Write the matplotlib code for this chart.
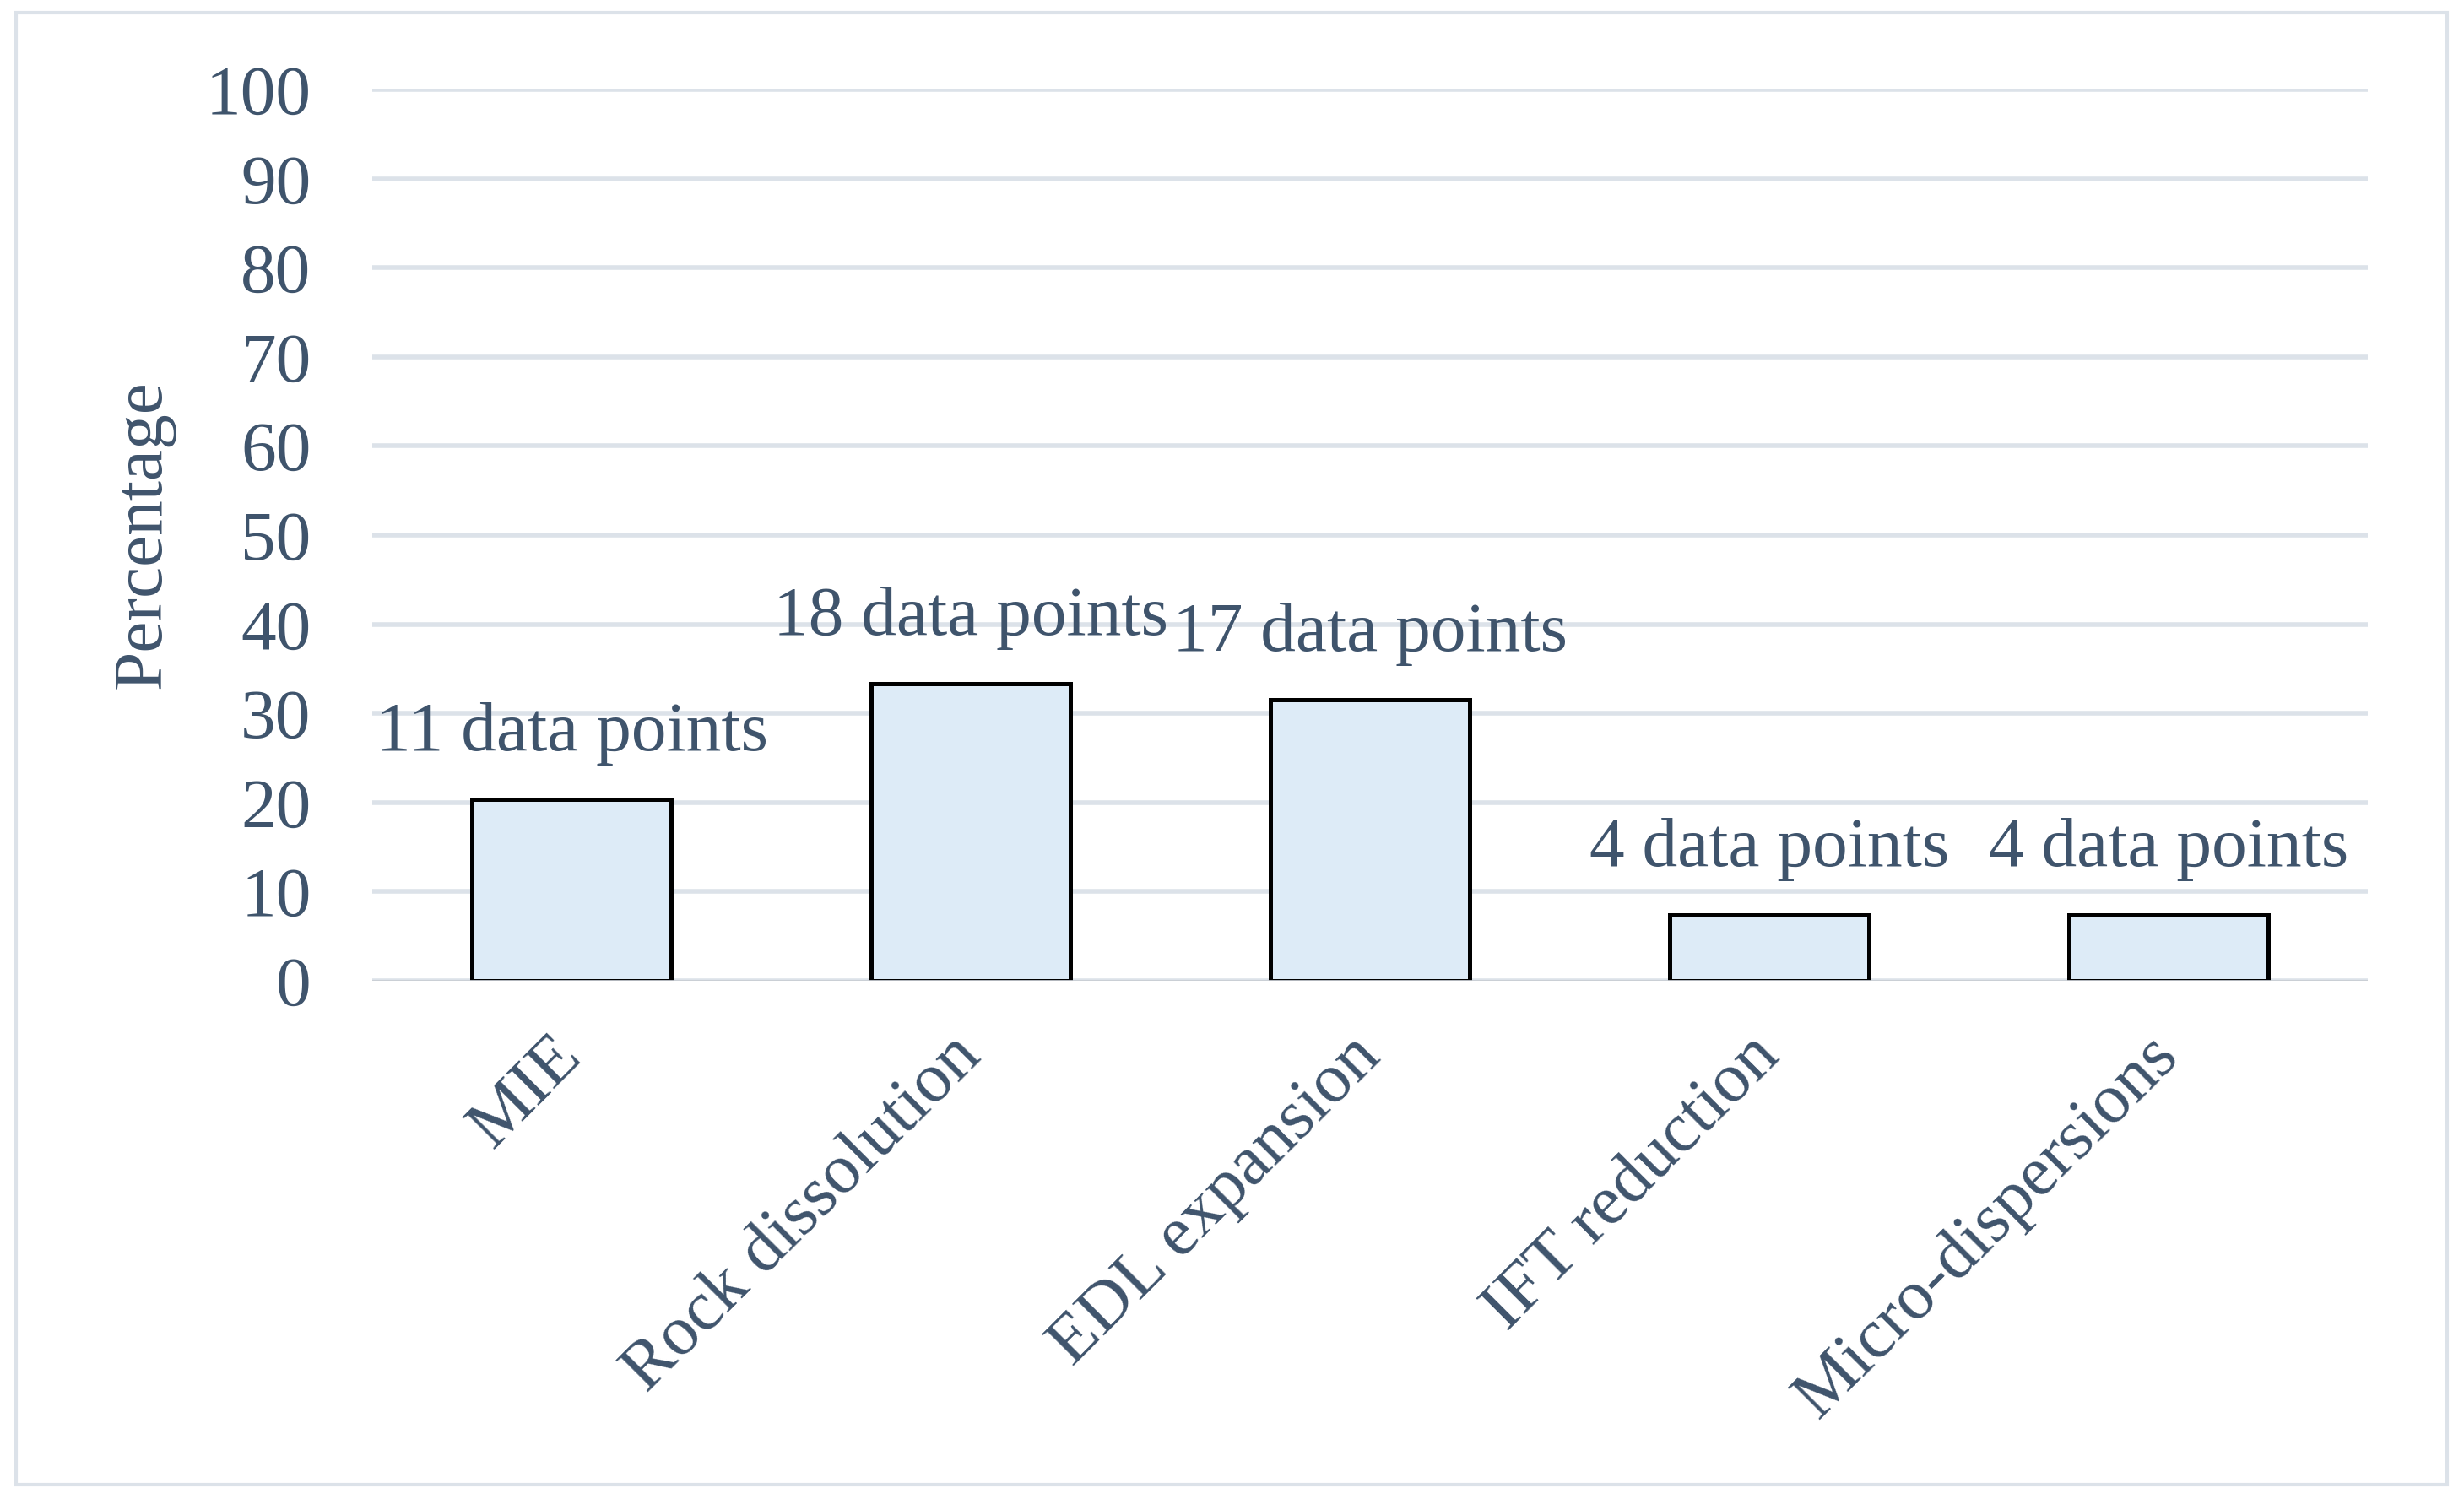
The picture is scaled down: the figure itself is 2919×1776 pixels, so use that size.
import numpy as np
import matplotlib.pyplot as plt
import matplotlib.transforms as mtransforms
from matplotlib.patches import Rectangle

# datos
categorias = ['MIE', 'Rock dissolution', 'EDL expansion', 'IFT reduction', 'Micro-dispersions']
porcentajes = [20.4, 33.3, 31.5, 7.4, 7.4]
etiquetas = ['11 data points', '18 data points', '17 data points', '4 data points', '4 data points']
ticks_y = [0, 10, 20, 30, 40, 50, 60, 70, 80, 90, 100]

color_texto = '#3F546C'
color_grid = '#DCE2E9'
color_barra = '#DDEBF7'
fs = 30

plt.rcParams['font.family'] = ['Liberation Serif', 'DejaVu Serif']

fig = plt.figure(figsize=(14.595, 8.88), dpi=200)
ax = fig.add_axes([0.151, 0.3457, 0.810, 0.5946])

x = np.arange(len(categorias))
ax.bar(x, porcentajes, width=0.5, color=color_barra, edgecolor='black',
       linewidth=1.8, zorder=3)
ax.axhline(0, color='#C8CDD3', linewidth=1.0, zorder=4)

for xi, val, txt in zip(x, porcentajes, etiquetas):
    ax.annotate(txt, (xi, val), xytext=(0, 28), textcoords='offset points',
                ha='center', va='center', fontsize=fs, color=color_texto, zorder=5)

ax.set_xlim(-0.5, len(categorias) - 0.5)
ax.set_ylim(0, 100)
ax.set_yticks(ticks_y)
ax.set_xticks(x)
ax.set_xticklabels(categorias, rotation=45, ha='right', va='center',
                   rotation_mode='anchor', fontsize=fs, color=color_texto)
# pequeño corrime a la derecha de las etiquetas
desplazamiento = mtransforms.ScaledTranslation(2 / 72, 0, fig.dpi_scale_trans)
for lbl in ax.get_xticklabels():
    lbl.set_transform(lbl.get_transform() + desplazamiento)
ax.tick_params(axis='y', labelsize=fs, labelcolor=color_texto, length=0, pad=26)
ax.tick_params(axis='x', length=0, pad=28)
ax.grid(axis='y', color=color_grid, linewidth=2.0, zorder=0)
ax.set_axisbelow(True)
for s in ax.spines.values():
    s.set_visible(False)

ax.set_ylabel('Percentage', fontsize=fs, color=color_texto)
ax.yaxis.set_label_coords(-0.0986, 0.501)

fig.add_artist(Rectangle((19 / 2919, 1 - 1759 / 1776), 2880 / 2919, 1744 / 1776,
                         transform=fig.transFigure, fill=False,
                         edgecolor=color_grid, linewidth=1.5))

fig.savefig('out.png', dpi=200)
